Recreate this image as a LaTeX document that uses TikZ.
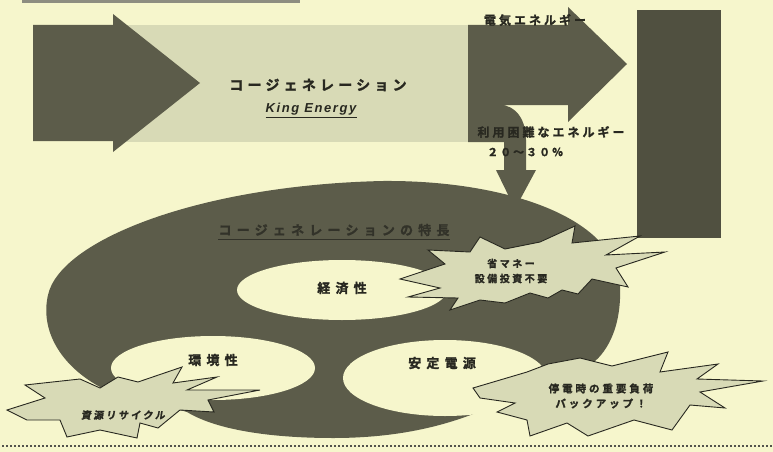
\documentclass[tikz,border=0pt]{standalone}
\usepackage{fontspec}
\setmainfont{Liberation Sans}
\newfontfamily\jp{Noto Sans CJK JP}[UprightFont={* Bold}, FakeBold=1.5]

\definecolor{paper}{RGB}{246,246,204}
\definecolor{pale}{RGB}{216,218,182}
\definecolor{olive}{RGB}{92,92,74}
\definecolor{deep}{RGB}{80,80,64}
\definecolor{ink}{RGB}{40,40,32}

\newcommand\jpsize[2]{\fontsize{#1}{#1}\selectfont\addfontfeatures{LetterSpace=#2}}

\begin{document}
\begin{tikzpicture}[x=1pt,y=-1pt,
  burst/.style={fill=pale, draw=ink, line width=0.9pt},
  hole/.style={fill=paper},
  jtext/.style={font=\jp, text=ink, inner sep=0pt}]
  \path[use as bounding box, fill=paper] (0,0) rectangle (773,452);
  \draw[olive!70, line width=3pt] (22,1.5) -- (300,1.5);

  % input arrow and plant box
  \fill[pale] (113,25) rectangle (468,142);
  \fill[olive] (33,25) -- (113,25) -- (113,14) -- (200,83) -- (113,152) -- (113,141) -- (33,141) -- cycle;

  % output arrow with its branch down
  \fill[olive] (468,25) -- (568,25) -- (568,7) -- (627,64) -- (568,122) -- (568,105) -- (500,105)
    .. controls (516,105) and (526,120) .. (526,140) -- (526,170) -- (536,170) -- (515,209)
    -- (496,170) -- (504,170) -- (504,142) -- (468,142) -- cycle;
  \fill[deep] (637,10) rectangle (721,238);

  % ring
  \fill[olive] (100,387) .. controls (60,365) and (40,330) .. (48,295)
    .. controls (60,240) and (200,185) .. (383,181)
    .. controls (500,180) and (615,215) .. (620,285)
    .. controls (622,330) and (605,355) .. (590,365) -- (490,407)
    .. controls (450,425) and (400,438) .. (333,438)
    .. controls (280,438) and (220,432) .. (187,412) -- cycle;
  \fill[hole] (342,290) ellipse [x radius=105, y radius=30];
  \fill[hole] (213,368) ellipse [x radius=102, y radius=32];
  \fill[hole] (445,378) ellipse [x radius=102, y radius=38];

  % bursts
  \draw[burst] (400,279) -- (445,264) -- (428,250) -- (470,252) -- (480,237) -- (505,249) -- (540,242)
    -- (575,226) -- (572,243) -- (640,236) -- (606,255) -- (665,252) -- (616,268) -- (628,287)
    -- (592,279) -- (578,294) -- (562,290) -- (548,298) -- (530,293) -- (505,303) -- (480,300)
    -- (450,310) -- (458,298) -- (408,297) -- (440,288) -- cycle;
  \draw[burst] (473,388) -- (527,372) -- (548,364) -- (580,358) -- (612,366) -- (668,352) -- (660,372)
    -- (718,364) -- (697,379) -- (763,381) -- (700,392) -- (725,408) -- (690,405) -- (672,430)
    -- (634,420) -- (588,436) -- (567,423) -- (530,436) -- (527,420) -- (497,412) -- (515,403)
    -- (480,398) -- cycle;
  \draw[burst] (7,410) -- (45,398) -- (25,385) -- (80,379) -- (100,388) -- (118,377) -- (138,382)
    -- (182,367) -- (173,383) -- (217,377) -- (187,390) -- (260,390) -- (208,400) -- (214,412)
    -- (180,410) -- (158,428) -- (140,423) -- (137,438) -- (100,430) -- (67,437) -- (60,420)
    -- (27,420) -- cycle;

  \draw[ink!80, line width=1.5pt, dash pattern=on 1.5pt off 2.5pt] (2,446) -- (773,446);

  % labels
  \node[jtext, font=\jp\jpsize{14}{30}] (cogen) at (318,85) {コージェネレーション};
  \node[jtext, font=\bfseries\itshape\fontsize{13}{13}\selectfont\addfontfeatures{LetterSpace=12}] (king) at (311,109) {King Energy};
  \draw[ink, line width=1pt] ([yshift=-2pt]king.south west) -- ([yshift=-2pt]king.south east);
  \node[jtext, font=\jp\jpsize{12}{25}] (elec) at (535,20) {電気エネルギー};
  \node[jtext, font=\jp\jpsize{12}{25}] (loss) at (551,132) {利用困難なエネルギー};
  \node[jtext, font=\jp\jpsize{11}{18}, anchor=west] (lossp) at (487,152) {２０〜３０％};
  \node[jtext, text=olive!55!black, font=\jp\jpsize{13}{40}] (merit) at (334,230) {コージェネレーションの特長};
  \draw[olive!55!black, line width=1.2pt] ([yshift=-3pt]merit.south west) -- ([yshift=-3pt]merit.south east);
  \node[jtext, font=\jp\jpsize{13}{40}] (econ) at (342,288) {経済性};
  \node[jtext, font=\jp\jpsize{13}{40}] (envi) at (213,360) {環境性};
  \node[jtext, font=\jp\jpsize{13}{40}] (stab) at (442,363) {安定電源};
  \node[jtext, align=center, font=\jp\fontsize{10}{15}\selectfont\addfontfeatures{LetterSpace=25}] (save) at (511,271) {省マネー\\設備投資不要};
  \node[jtext, align=center, font=\jp\fontsize{10.5}{15}\selectfont\addfontfeatures{LetterSpace=28}] (backup) at (601,396) {停電時の重要負荷\\バックアップ！};
  \node[jtext, font=\jp\jpsize{10}{24}\addfontfeatures{FakeSlant=0.15}] (recyc) at (123,415) {資源リサイクル};
\end{tikzpicture}
\end{document}
